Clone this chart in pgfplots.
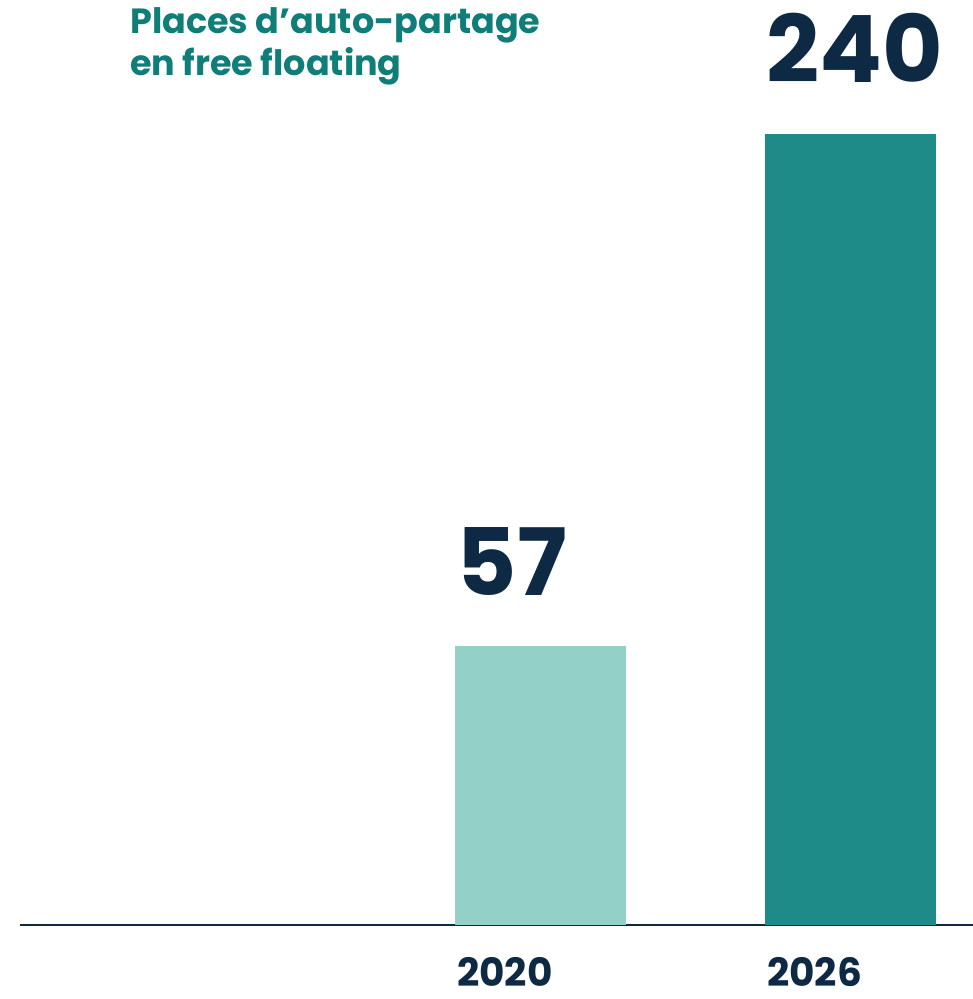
\documentclass[border=0pt]{standalone}
\usepackage{pgfplots}
\pgfplotsset{compat=1.18}
\usepackage{fontspec}
\setmainfont{Poppins}

\definecolor{navy}{HTML}{0D2944}
\definecolor{lightteal}{HTML}{93D0C8}
\definecolor{darkteal}{HTML}{1F8B89}
\definecolor{titleteal}{HTML}{0F7E78}

\begin{document}
\begin{tikzpicture}
\begin{axis}[
    scale only axis,
    width=953pt, height=925pt,
    xmin=-0.679, xmax=2.395,
    ymin=0, ymax=280.7,
    axis x line=bottom, axis y line=none,
    x axis line style={-, navy, line width=1.5pt},
    xtick={1,2}, xticklabels={2020,2026},
    ytick=\empty,
    major tick length=0pt,
    xticklabel style={anchor=north west, inner sep=0pt, text depth=0pt, xshift=-83.5pt, yshift=-32pt,
        font=\fontsize{39}{39}\selectfont\bfseries, text=navy},
    ybar, bar width=0.5516, bar shift=0pt,
    nodes near coords, point meta=explicit symbolic,
    nodes near coords style={anchor=south west, inner sep=0pt, xshift=-84pt, yshift=51pt,
        font=\fontsize{93}{93}\selectfont\bfseries, text=navy},
    title={Places d’auto-partage\\en free floating},
    title style={at={(rel axis cs:0.1154,0.986)}, anchor=north west, inner sep=0pt,
        align=left, text=titleteal, font=\fontsize{35}{42}\selectfont\bfseries},
    clip=false,
]
% bar heights as drawn (the original is not to scale); labels give the values
\addplot[fill=lightteal, draw=none] coordinates {(1,84.6) [57]};
\addplot[fill=darkteal, draw=none] coordinates {(2,240) [240]};
\end{axis}
\pgfresetboundingbox
\path[use as bounding box] (current axis.south west) ++(-20pt,-74pt) rectangle ++(973pt,999pt);
\end{tikzpicture}
\end{document}
